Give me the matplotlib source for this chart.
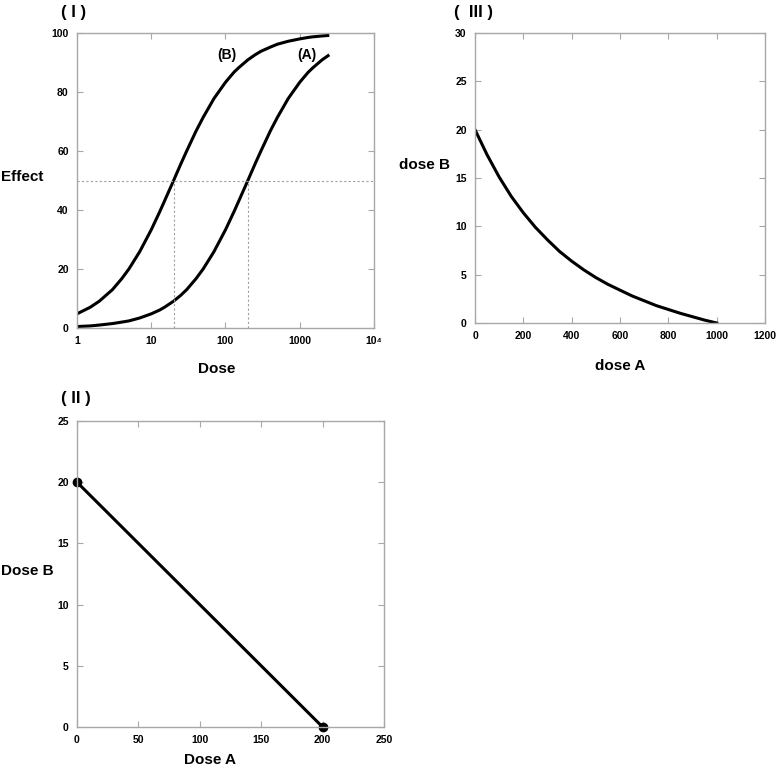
import matplotlib
matplotlib.use("Agg")
import matplotlib.pyplot as plt

plt.rcParams["font.family"] = ["Liberation Sans", "DejaVu Sans"]
plt.rcParams["font.weight"] = "bold"

# Panel I: dose-response curves
dose = [1, 1.5, 2, 3, 4, 5, 7, 10, 13, 15, 20, 25, 30, 40, 50, 70, 100, 130,
        150, 200, 250, 300, 400, 500, 700, 1000, 1300, 1500, 2000, 2500]
effect_b = [4.8, 7.0, 9.1, 13.0, 16.7, 20.0, 25.9, 33.3, 39.4, 42.9, 50.0, 55.6,
            60.0, 66.7, 71.4, 77.8, 83.3, 86.7, 88.2, 90.9, 92.6, 93.8, 95.2,
            96.2, 97.2, 98.0, 98.5, 98.7, 99.0, 99.2]
effect_a = [0.5, 0.7, 1.0, 1.5, 2.0, 2.4, 3.4, 4.8, 6.1, 7.0, 9.1, 11.1, 13.0,
            16.7, 20.0, 25.9, 33.3, 39.4, 42.9, 50.0, 55.6, 60.0, 66.7, 71.4,
            77.8, 83.3, 86.7, 88.2, 90.9, 92.6]
ec50_b, ec50_a = 20, 200
half_effect = 50

# Panel III: curved isobole
dose_a3 = [0, 50, 100, 150, 200, 250, 300, 350, 400, 450, 500, 550, 600, 650,
           700, 750, 800, 850, 900, 950, 1000]
dose_b3 = [20.0, 17.4, 15.1, 13.1, 11.4, 9.9, 8.6, 7.4, 6.4, 5.5, 4.7, 4.0, 3.4,
           2.8, 2.3, 1.8, 1.4, 1.0, 0.65, 0.3, 0.0]

# Panel II: linear isobole
dose_a2 = [0, 200]
dose_b2 = [20, 0]

W, H = 776, 767
fig = plt.figure(figsize=(W / 100, H / 100), dpi=100)


def px_axes(left, top, right, bottom):
    return fig.add_axes([left / W, 1 - bottom / H, (right - left) / W, (bottom - top) / H])


def style(ax):
    for s in ax.spines.values():
        s.set_color("#a8a8a8")
        s.set_linewidth(1.0)
    ax.tick_params(direction="in", top=True, right=True, length=4, width=0.8,
                   color="#a8a8a8", labelsize=7.5, pad=6, labelcolor="black")
    ax.minorticks_off()


def ftext(x, y, s, size=11, ha="center"):
    fig.text(x / W, 1 - y / H, s, fontsize=size, fontweight="bold", ha=ha, va="center")


# ---- Panel I
ax1 = px_axes(77, 33, 374, 328)
ax1.set_xscale("log")
ax1.plot(dose, effect_b, color="black", lw=2.2, solid_capstyle="butt")
ax1.plot(dose, effect_a, color="black", lw=2.2, solid_capstyle="butt")
ax1.axhline(half_effect, color="#a0a0a0", lw=0.8, ls=(0, (2, 2)))
for e in (ec50_b, ec50_a):
    ax1.plot([e, e], [0, half_effect], color="#a0a0a0", lw=0.8, ls=(0, (2, 2)))
ax1.set_xlim(1, 1e4)
ax1.set_ylim(0, 100)
ax1.set_xticks([1, 10, 100, 1000, 1e4])
ax1.set_xticklabels(["1", "10", "100", "1000", "10\u2074"])
ax1.set_yticks([0, 20, 40, 60, 80, 100])
style(ax1)
ax1.text(105, 92.5, "(B)", fontsize=10, fontweight="bold", ha="center", va="center")
ax1.text(1250, 92.5, "(A)", fontsize=10, fontweight="bold", ha="center", va="center")
ftext(74, 12, "( I )", size=12)
ftext(1, 177, "Effect", ha="left")
ftext(217, 369, "Dose")

# ---- Panel III
ax3 = px_axes(475, 33, 765, 323)
ax3.plot(dose_a3, dose_b3, color="black", lw=2.2)
ax3.set_xlim(0, 1200)
ax3.set_ylim(0, 30)
ax3.set_xticks(range(0, 1201, 200))
ax3.set_yticks(range(0, 31, 5))
style(ax3)
ftext(473, 12, "(  III )", size=12)
ftext(399, 165, "dose B", ha="left")
ftext(620, 366, "dose A")

# ---- Panel II
ax2 = px_axes(77, 421, 384, 727)
ax2.plot(dose_a2, dose_b2, color="black", lw=2.2, marker="o", markersize=6)
ax2.set_xlim(0, 250)
ax2.set_ylim(0, 25)
ax2.set_xticks(range(0, 251, 50))
ax2.set_yticks(range(0, 26, 5))
style(ax2)
for ln in ax2.lines:
    ln.set_clip_on(False)
ftext(76, 398, "( II )", size=12)
ftext(1, 571, "Dose B", ha="left")
ftext(210, 760, "Dose A")

fig.savefig("out.png", dpi=100)
